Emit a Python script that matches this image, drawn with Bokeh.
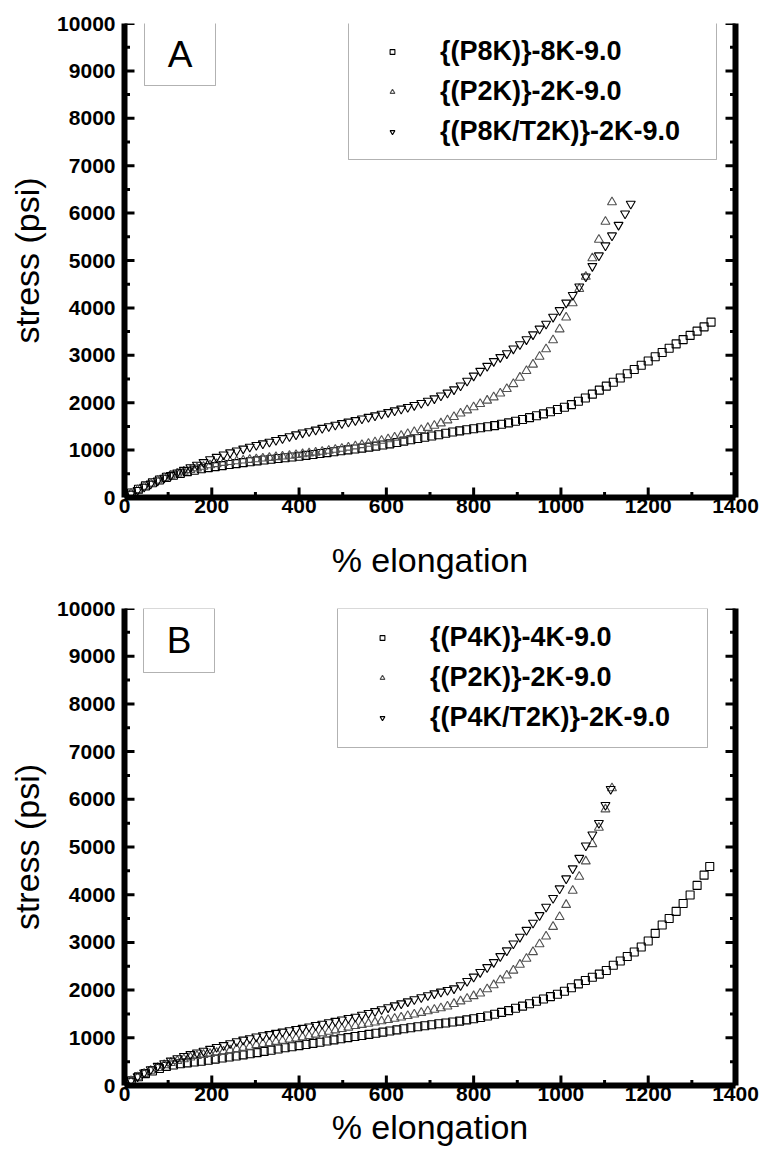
from bokeh.plotting import figure
from bokeh.models import (LinearAxis, SingleIntervalTicker, Range1d, Legend, LegendItem,
                          BoxAnnotation, Label, CustomJSTickFormatter)
from bokeh.layouts import column
from bokeh.embed import file_html
from bokeh.resources import INLINE
import math

FONT = "Liberation Sans"

# ---------------- data ----------------
X_SQ_A = [0, 16, 32, 48, 64, 80, 96, 112, 128, 144,
          160, 176, 192, 208, 224, 240, 256, 272, 288, 304,
          320, 336, 352, 368, 384, 400, 416, 432, 448, 464,
          480, 496, 512, 528, 544, 560, 576, 592, 608, 624,
          640, 656, 672, 688, 704, 720, 736, 752, 768, 784,
          800, 816, 832, 848, 864, 880, 896, 912, 928, 944,
          960, 976, 992, 1008, 1024, 1040, 1056, 1072, 1088, 1104,
          1120, 1136, 1152, 1168, 1184, 1200, 1216, 1232, 1248, 1264,
          1280, 1296, 1312, 1328, 1344]
Y_SQ_A = [0, 95, 175, 245, 310, 370, 425, 470, 510, 545,
          575, 605, 630, 652, 673, 695, 715, 735, 755, 773,
          790, 806, 822, 838, 854, 870, 888, 907, 927, 946,
          965, 985, 1004, 1022, 1042, 1062, 1084, 1108, 1132, 1160,
          1190, 1218, 1245, 1270, 1296, 1325, 1354, 1382, 1405, 1428,
          1450, 1472, 1494, 1517, 1545, 1575, 1610, 1645, 1685, 1725,
          1765, 1810, 1855, 1905, 1960, 2030, 2100, 2180, 2265, 2350,
          2430, 2520, 2610, 2700, 2790, 2880, 2970, 3060, 3150, 3240,
          3330, 3420, 3510, 3600, 3700]

X_UP_A = [0, 15, 30, 45, 60, 76, 91, 106, 121, 136,
          151, 166, 181, 196, 211, 227, 242, 257, 272, 287,
          302, 317, 332, 347, 362, 378, 393, 408, 423, 438,
          453, 468, 483, 498, 513, 529, 544, 559, 574, 589,
          604, 619, 634, 649, 664, 680, 695, 710, 725, 740,
          755, 770, 785, 800, 815, 831, 846, 861, 876, 891,
          906, 921, 936, 951, 966, 982, 997, 1012, 1027, 1042,
          1057, 1072, 1087, 1102, 1117]
Y_UP_A = [0, 85, 160, 230, 295, 360, 413, 463, 508, 547,
          582, 617, 650, 681, 707, 733, 752, 768, 782, 796,
          810, 824, 838, 853, 868, 884, 899, 916, 932, 949,
          968, 988, 1008, 1030, 1054, 1081, 1107, 1136, 1166, 1198,
          1231, 1265, 1302, 1340, 1381, 1425, 1470, 1516, 1565, 1630,
          1700, 1775, 1840, 1905, 1975, 2045, 2115, 2195, 2290, 2395,
          2530, 2670, 2805, 2970, 3130, 3320, 3550, 3800, 4100, 4400,
          4660, 5050, 5440, 5820, 6230]

X_DN_A = [0, 15, 30, 45, 60, 76, 91, 106, 121, 136,
          151, 166, 181, 196, 211, 227, 242, 257, 272, 287,
          302, 317, 332, 347, 362, 378, 393, 408, 423, 438,
          453, 468, 483, 498, 513, 529, 544, 559, 574, 589,
          604, 619, 634, 649, 664, 680, 695, 710, 725, 740,
          755, 770, 785, 800, 815, 831, 846, 861, 876, 891,
          906, 921, 936, 951, 966, 982, 997, 1012, 1027, 1042,
          1057, 1072, 1087, 1102, 1117, 1132, 1147, 1160]
Y_DN_A = [0, 80, 155, 225, 290, 355, 415, 470, 525, 580,
          635, 690, 745, 805, 855, 905, 950, 990, 1030, 1068,
          1105, 1140, 1175, 1212, 1250, 1290, 1330, 1368, 1395, 1430,
          1466, 1500, 1533, 1566, 1598, 1630, 1665, 1698, 1730, 1765,
          1800, 1835, 1872, 1908, 1948, 1992, 2040, 2090, 2150, 2210,
          2280, 2360, 2460, 2570, 2670, 2775, 2876, 2960, 3040, 3140,
          3230, 3335, 3440, 3560, 3665, 3810, 3950, 4110, 4270, 4450,
          4660, 4880, 5105, 5316, 5527, 5750, 5990, 6195]

X_SQ_B = [0, 16, 32, 48, 64, 80, 96, 112, 128, 144,
          160, 176, 192, 208, 224, 240, 256, 272, 288, 304,
          320, 336, 352, 368, 384, 400, 416, 432, 448, 464,
          480, 496, 512, 528, 544, 560, 576, 592, 608, 624,
          640, 656, 672, 688, 704, 720, 736, 752, 768, 784,
          800, 816, 832, 848, 864, 880, 896, 912, 928, 944,
          960, 976, 992, 1008, 1024, 1040, 1056, 1072, 1088, 1104,
          1120, 1136, 1152, 1168, 1184, 1200, 1216, 1232, 1248, 1264,
          1280, 1296, 1312, 1328, 1341]
Y_SQ_B = [0, 100, 185, 250, 305, 355, 400, 430, 455, 475,
          492, 508, 530, 553, 575, 597, 620, 643, 666, 690,
          715, 740, 765, 790, 813, 836, 860, 884, 908, 932,
          956, 980, 1004, 1026, 1048, 1071, 1094, 1118, 1142, 1166,
          1190, 1212, 1233, 1254, 1274, 1293, 1311, 1330, 1350, 1375,
          1400, 1427, 1458, 1495, 1533, 1570, 1620, 1663, 1714, 1766,
          1812, 1864, 1914, 1976, 2050, 2130, 2202, 2270, 2335, 2410,
          2520, 2610, 2705, 2800, 2905, 3030, 3190, 3365, 3500, 3650,
          3815, 3995, 4195, 4410, 4591]

X_UP_B = [0, 15, 30, 45, 60, 76, 91, 106, 121, 136,
          151, 166, 181, 196, 211, 227, 242, 257, 272, 287,
          302, 317, 332, 347, 362, 378, 393, 408, 423, 438,
          453, 468, 483, 498, 513, 529, 544, 559, 574, 589,
          604, 619, 634, 649, 664, 680, 695, 710, 725, 740,
          755, 770, 785, 800, 815, 831, 846, 861, 876, 891,
          906, 921, 936, 951, 966, 982, 997, 1012, 1027, 1042,
          1057, 1072, 1087, 1102, 1117]
Y_UP_B = [0, 95, 175, 245, 310, 370, 428, 475, 515, 553,
          588, 620, 645, 665, 688, 712, 738, 765, 790, 815,
          848, 871, 894, 917, 940, 965, 988, 1011, 1040, 1069,
          1098, 1128, 1157, 1187, 1216, 1248, 1272, 1298, 1324, 1350,
          1376, 1402, 1428, 1458, 1490, 1525, 1558, 1590, 1622, 1657,
          1712, 1766, 1820, 1875, 1930, 2020, 2105, 2208, 2307, 2410,
          2535, 2660, 2798, 2962, 3125, 3328, 3535, 3788, 4085, 4378,
          4700, 5062, 5405, 5790, 6233]

X_DN_B = [0, 15, 30, 45, 60, 76, 91, 106, 121, 136,
          151, 166, 181, 196, 211, 227, 242, 257, 272, 287,
          302, 317, 332, 347, 362, 378, 393, 408, 423, 438,
          453, 468, 483, 498, 513, 529, 544, 559, 574, 589,
          604, 619, 634, 649, 664, 680, 695, 710, 725, 740,
          755, 770, 785, 800, 815, 831, 846, 861, 876, 891,
          906, 921, 936, 951, 966, 982, 997, 1012, 1027, 1042,
          1057, 1072, 1087, 1102, 1114]
Y_DN_B = [0, 100, 190, 270, 340, 410, 465, 520, 570, 615,
          655, 690, 725, 765, 805, 845, 885, 925, 960, 990,
          1024, 1050, 1076, 1102, 1127, 1155, 1181, 1207, 1236, 1265,
          1294, 1324, 1353, 1383, 1412, 1440, 1480, 1518, 1557, 1597,
          1637, 1678, 1720, 1762, 1805, 1848, 1890, 1930, 1965, 2000,
          2035, 2100, 2190, 2280, 2376, 2480, 2585, 2710, 2830, 2975,
          3115, 3260, 3410, 3570, 3745, 3930, 4130, 4340, 4550, 4770,
          5030, 5260, 5500, 5880, 6215]

LABELS_A = ["{(P8K)}-8K-9.0", "{(P2K)}-2K-9.0", "{(P8K/T2K)}-2K-9.0"]
LABELS_B = ["{(P4K)}-4K-9.0", "{(P2K)}-2K-9.0", "{(P4K/T2K)}-2K-9.0"]
X_TITLE = "% elongation"
Y_TITLE = "stress (psi)"

# tick positions (axis scale values)
X_MAJOR = [0, 200, 400, 600, 800, 1000, 1200, 1400]
X_MINOR = [100, 300, 500, 700, 900, 1100, 1300]
Y_MAJOR = [0, 1000, 2000, 3000, 4000, 5000, 6000, 7000, 8000, 9000, 10000]
Y_MINOR = [500, 1500, 2500, 3500, 4500, 5500, 6500, 7500, 8500, 9500]
X_MIN, X_MAX = 0, 1400
Y_MIN, Y_MAX = 0, 10000

AXIS_STYLE = dict(
    axis_line_width=6, axis_line_color="black",
    major_tick_in=0, major_tick_out=0, minor_tick_in=0, minor_tick_out=0,
    major_label_text_font=FONT, major_label_text_font_style="bold",
    major_label_text_font_size="21px", major_label_text_color="black",
    axis_label_text_font=FONT, axis_label_text_font_style="normal",
    axis_label_text_font_size="34px", axis_label_text_color="black",
)


def inward_ticks(p):
    # tick marks drawn as dash markers centred on the frame edges; the frame
    # clip keeps only the half that points into the plot
    p.scatter([X_MIN] * len(Y_MAJOR), Y_MAJOR, marker="dash", size=20,
              line_color="black", line_width=3)
    p.scatter([X_MAX] * len(Y_MAJOR), Y_MAJOR, marker="dash", size=20,
              line_color="black", line_width=3)
    p.scatter([X_MIN] * len(Y_MINOR), Y_MINOR, marker="dash", size=11,
              line_color="black", line_width=3)
    p.scatter([X_MAX] * len(Y_MINOR), Y_MINOR, marker="dash", size=11,
              line_color="black", line_width=3)
    p.scatter(X_MAJOR, [Y_MIN] * len(X_MAJOR), marker="dash", size=20,
              angle=math.pi / 2, line_color="black", line_width=3)
    p.scatter(X_MINOR, [Y_MIN] * len(X_MINOR), marker="dash", size=11,
              angle=math.pi / 2, line_color="black", line_width=3)


def make_panel(height, border_right, border_bottom, series, labels, letter,
               letter_box, legend_loc, legend_box, x_title_standoff):
    p = figure(width=764, height=height, output_backend="svg", toolbar_location=None,
               x_range=Range1d(X_MIN, X_MAX), y_range=Range1d(Y_MIN, Y_MAX),
               min_border_left=124, min_border_right=border_right,
               min_border_top=23, min_border_bottom=border_bottom)
    p.xgrid.visible = False
    p.ygrid.visible = False
    p.outline_line_color = None
    p.background_fill_color = None
    p.border_fill_color = "white"

    xax = p.xaxis[0]
    yax = p.yaxis[0]
    xax.ticker = SingleIntervalTicker(interval=200, num_minor_ticks=2)
    yax.ticker = SingleIntervalTicker(interval=1000, num_minor_ticks=2)
    xax.update(**AXIS_STYLE)
    yax.update(**AXIS_STYLE)
    xax.axis_label = X_TITLE
    yax.axis_label = Y_TITLE
    xax.major_label_standoff = 1
    xax.axis_label_standoff = x_title_standoff
    yax.major_label_standoff = 9
    yax.axis_label_standoff = 8

    right = LinearAxis(ticker=SingleIntervalTicker(interval=1000, num_minor_ticks=2),
                       formatter=CustomJSTickFormatter(code="return ''"))
    right.update(**AXIS_STYLE)
    right.major_label_standoff = 0
    p.add_layout(right, "right")

    inward_ticks(p)

    (xs, ys), (xu, yu), (xd, yd) = series
    r_sq = p.scatter(xs, ys, marker="square", size=8, line_color="black",
                     fill_color=None, line_width=1.1)
    r_up = p.scatter(xu, yu, marker="triangle", size=9, line_color="#505050",
                     fill_color=None, line_width=1.1)
    r_dn = p.scatter(xd, yd, marker="inverted_triangle", size=9, line_color="black",
                     fill_color=None, line_width=1.1)

    legend = Legend(items=[LegendItem(label=labels[0], renderers=[r_sq]),
                           LegendItem(label=labels[1], renderers=[r_up]),
                           LegendItem(label=labels[2], renderers=[r_dn])],
                    location=legend_loc, orientation="vertical",
                    border_line_alpha=0, background_fill_alpha=0,
                    padding=0, margin=0, spacing=9,
                    glyph_width=12, glyph_height=31, label_height=31,
                    label_standoff=42, label_text_font=FONT,
                    label_text_font_style="bold", label_text_font_size="27px",
                    label_text_color="black")
    p.add_layout(legend)

    l, r, t, b = legend_box
    p.add_layout(BoxAnnotation(left=l, right=r, top=t, bottom=b,
                               left_units="screen", right_units="screen",
                               top_units="screen", bottom_units="screen",
                               fill_color=None, line_color="black", line_width=1))
    l, r, t, b = letter_box
    p.add_layout(BoxAnnotation(left=l, right=r, top=t, bottom=b,
                               left_units="screen", right_units="screen",
                               top_units="screen", bottom_units="screen",
                               fill_color=None, line_color="black", line_width=1))
    p.add_layout(Label(x=(l + r) / 2, y=(t + b) / 2, x_units="screen", y_units="screen",
                       text=letter, text_align="center", text_baseline="middle",
                       text_font=FONT, text_font_size="37px", text_color="black"))
    return p


pA = make_panel(585, 29, 88,
                [(X_SQ_A, Y_SQ_A), (X_UP_A, Y_UP_A), (X_DN_A, Y_DN_A)],
                LABELS_A, "A",
                letter_box=(20, 91, 475, 412),
                legend_loc=(262, 350),
                legend_box=(224, 592, 476, 338),
                x_title_standoff=25)
pB = make_panel(566, 27, 66,
                [(X_SQ_B, Y_SQ_B), (X_UP_B, Y_UP_B), (X_DN_B, Y_DN_B)],
                LABELS_B, "B",
                letter_box=(19, 90, 477, 413),
                legend_loc=(252, 352),
                legend_box=(213, 583, 477, 338),
                x_title_standoff=4)

layout = column(pA, pB, spacing=0)
open("out.html", "w").write(file_html(layout, INLINE))
